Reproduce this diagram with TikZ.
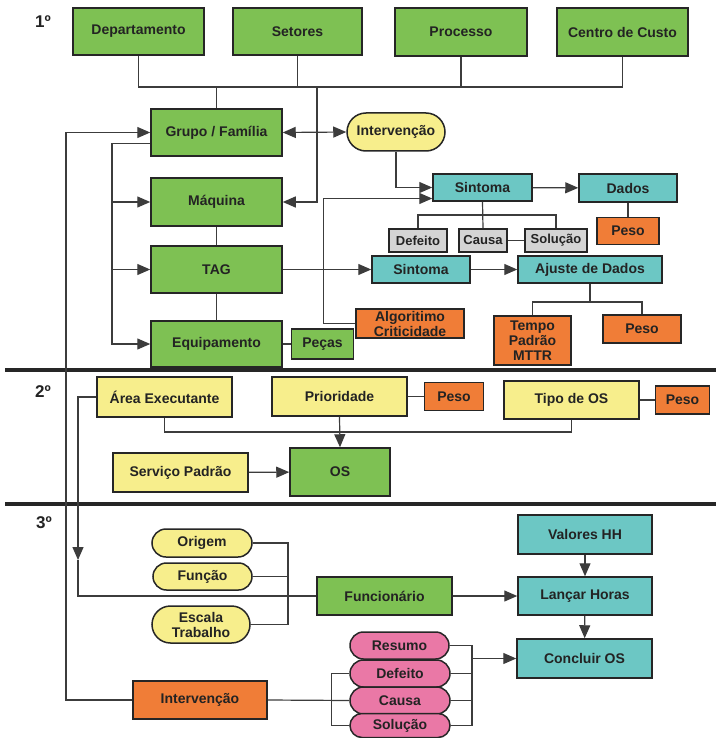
\documentclass[tikz,border=0pt]{standalone}
\usepackage{fontspec}
\setmainfont{Liberation Sans}
\usetikzlibrary{positioning,arrows.meta,shapes.misc}
\definecolor{BoxGreen}{RGB}{126,193,83}
\definecolor{BoxTeal}{RGB}{108,199,196}
\definecolor{BoxYellow}{RGB}{247,238,140}
\definecolor{BoxOrange}{RGB}{240,125,55}
\definecolor{BoxGray}{RGB}{212,212,212}
\definecolor{BoxPink}{RGB}{234,120,166}
\definecolor{EdgeDark}{RGB}{38,38,38}
\definecolor{LineGray}{RGB}{60,60,60}
\definecolor{TextDark}{RGB}{35,35,35}
\tikzset{
  flow/.style={-{Triangle[length=13pt,width=11pt]},line width=1.2pt,draw=LineGray},
  dflow/.style={{Triangle[length=13pt,width=11pt]}-{Triangle[length=13pt,width=11pt]},line width=1.2pt,draw=LineGray},
  link/.style={line width=1.2pt,draw=LineGray},
  divider/.style={line width=3.5pt,draw=EdgeDark},
  box/.style={draw=EdgeDark,line width=1.5pt,inner sep=0pt,align=center,
    text=TextDark,font=\fontsize{14}{15}\selectfont\bfseries},
  greenbox/.style={box,fill=BoxGreen},
  tealbox/.style={box,fill=BoxTeal},
  yellowbox/.style={box,fill=BoxYellow},
  orangebox/.style={box,fill=BoxOrange},
  graybox/.style={box,fill=BoxGray,font=\fontsize{13}{14}\selectfont\bfseries},
  yellowpill/.style={box,rounded rectangle,fill=BoxYellow},
  pinkpill/.style={box,rounded rectangle,fill=BoxPink},
  levellabel/.style={text=TextDark,font=\fontsize{17}{17}\selectfont\bfseries}
}
\begin{document}
\begin{tikzpicture}[x=1pt,y=-1pt]
  \path[fill=white] (0,0) rectangle (720,738);
  \useasboundingbox (0,0) rectangle (720,738);

  \node[levellabel] (lvlA) at (43,22) {1º};
  \node[levellabel] (lvlB) at (43,392) {2º};
  \node[levellabel] (lvlC) at (44,523) {3º};

  \node[greenbox,minimum width=131,minimum height=47] (dep) at (138.5,31.5) {Departamento};
  \node[greenbox,minimum width=129,minimum height=47] (setores) at (297.5,31.5) {Setores};
  \node[greenbox,minimum width=132,minimum height=48] (processo) at (461,32) {Processo};
  \node[greenbox,minimum width=131,minimum height=48] (custo) at (622.5,32) {Centro de Custo};

  \node[greenbox,minimum width=131,minimum height=47] (grupo) at (216.5,132.5) {Grupo / Família};
  \node[greenbox,minimum width=131,minimum height=48] (maquina) at (216.5,202) {Máquina};
  \node[greenbox,minimum width=131,minimum height=47] (tag) at (216.5,269.5) {TAG};
  \node[greenbox,minimum width=131,minimum height=46] (equip) at (216.5,344) {Equipamento};
  \node[greenbox,right=8pt of equip,minimum width=62,minimum height=30] (pecas) {Peças};

  \node[yellowpill,minimum width=98,minimum height=38] (intervA) at (396,132) {Intervenção};
  \node[tealbox,minimum width=99,minimum height=27] (sintA) at (482.5,187.5) {Sintoma};
  \node[tealbox,minimum width=98,minimum height=28] (dados) at (628,188) {Dados};
  \node[orangebox,below=14pt of dados,minimum width=62,minimum height=27] (pesoA) {Peso};
  \node[graybox,minimum width=58,minimum height=23] (defeitoA) at (418,240.5) {Defeito};
  \node[graybox,minimum width=48,minimum height=23] (causaA) at (483,240.5) {Causa};
  \node[graybox,minimum width=62,minimum height=23] (solucaoA) at (556,240.5) {Solução};
  \node[tealbox,minimum width=98,minimum height=27] (sintB) at (421,269.5) {Sintoma};
  \node[tealbox,minimum width=144,minimum height=27] (ajuste) at (590,269.5) {Ajuste de Dados};
  \node[orangebox,minimum width=108,minimum height=29] (algoritmo) at (410,323.5) {Algoritimo\\Criticidade};
  \node[orangebox,minimum width=77,minimum height=49] (tempo) at (532.5,340.5) {Tempo\\Padrão\\MTTR};
  \node[orangebox,minimum width=78,minimum height=28] (pesoB) at (642,329) {Peso};

  \draw[divider] (5,370) -- (716,370);
  \draw[divider] (5,504) -- (716,504);

  \node[yellowbox,minimum width=135,minimum height=40] (area) at (164.5,397) {Área Executante};
  \node[yellowbox,minimum width=135,minimum height=39] (prioridade) at (339.5,396.5) {Prioridade};
  \node[orangebox,right=16pt of prioridade,minimum width=59,minimum height=28] (pesoC) {Peso};
  \node[yellowbox,minimum width=135,minimum height=38] (tipo) at (571.5,400) {Tipo de OS};
  \node[orangebox,right=15pt of tipo,minimum width=54,minimum height=28] (pesoD) {Peso};
  \node[greenbox,minimum width=100,minimum height=48] (os) at (340,472) {OS};
  \node[yellowbox,minimum width=135,minimum height=39] (servico) at (180.5,472.5) {Serviço Padrão};

  \node[yellowpill,minimum width=100,minimum height=28] (origem) at (202,543) {Origem};
  \node[yellowpill,minimum width=99,minimum height=27] (funcao) at (202.5,576.5) {Função};
  \node[yellowpill,minimum width=98,minimum height=37] (escala) at (201,624.5) {Escala\\Trabalho};
  \node[greenbox,minimum width=135,minimum height=38] (funcionario) at (384.5,596) {Funcionário};
  \node[tealbox,minimum width=134,minimum height=39] (valores) at (585,534.5) {Valores HH};
  \node[tealbox,minimum width=134,minimum height=38] (lancar) at (585,596) {Lançar Horas};
  \node[tealbox,minimum width=135,minimum height=39] (concluir) at (584.5,658.5) {Concluir OS};
  \node[orangebox,minimum width=134,minimum height=38] (intervB) at (200,700) {Intervenção};
  \node[pinkpill,minimum width=99,minimum height=27] (resumo) at (399.5,645.5) {Resumo};
  \node[pinkpill,minimum width=100,minimum height=27] (defeitoB) at (400,673.5) {Defeito};
  \node[pinkpill,minimum width=100,minimum height=27] (causaB) at (400,700.5) {Causa};
  \node[pinkpill,minimum width=100,minimum height=24] (solucaoB) at (400,725.5) {Solução};

  \coordinate (busL) at (138.5,87);
  \coordinate (busM) at (317,87);
  \coordinate (drop) at (78,560);
  \draw[link] (dep.south) -- (busL) -- (custo.south |- busL) -- (custo.south);
  \draw[link] (setores.south) -- (setores.south |- busL);
  \draw[link] (processo.south) -- (processo.south |- busL);
  \draw[link] (grupo.north) -- (grupo.north |- busL);
  \draw[flow] (busM) |- (maquina.east);
  \draw[dflow] (grupo.east) -- (intervA.west);
  \draw[flow] ([yshift=-11pt]grupo.west) -| (equip.west -| 112,0) -- (equip.west);
  \foreach \n in {maquina,tag}
    \draw[flow] (\n.west -| 112,0) -- (\n.west);
  \draw[flow] (intervB.west) -| (grupo.west -| 66,0) -- (grupo.west);
  \draw[link] (maquina) -- (tag);
  \draw[link] (tag) -- (equip);
  \draw[link] (equip) -- (pecas);

  \draw[flow] (intervA.south) |- (sintA.west);
  \draw[flow] (algoritmo.west) -- ++(-32,0) |- ([yshift=-11pt]sintA.west);
  \draw[flow] (sintA) -- (dados);
  \draw[link] (dados) -- (pesoA);
  \draw[link] (sintA.south) -- (causaA.north);
  \draw[link] (defeitoA.north) |- (solucaoA.north |- 0,215) -- (solucaoA.north);
  \draw[link] (causaA) -- (solucaoA);
  \draw[flow] (tag.east) -- (sintB.west);
  \draw[flow] (sintB) -- (ajuste);
  \draw[link] (ajuste.south) -- (ajuste.south |- 0,302);
  \draw[link] (tempo.north) |- (pesoB.north |- 0,302) -- (pesoB.north);

  \draw[link] (prioridade) -- (pesoC);
  \draw[link] (tipo) -- (pesoD);
  \draw[link] (area.south) |- (tipo.south |- 0,432) -- (tipo.south);
  \draw[flow] (prioridade.south) -- (os.north);
  \draw[flow] (servico) -- (os);
  \draw[flow] (area.west) -| (drop);
  \draw[link] (drop) |- (funcionario.west);

  \draw[link] (origem.east) -| (escala.east -| 288,0) -- (escala.east);
  \draw[link] (funcao.east) -- (funcao.east -| 288,0);
  \draw[flow] (funcionario) -- (lancar);
  \draw[flow] (valores) -- (lancar);
  \draw[flow] (lancar) -- (concluir);
  \draw[link] (intervB.east) -- (causaB.west);
  \draw[link] (defeitoB.west) -- ++(-18,0) |- (solucaoB.west);
  \draw[link] (resumo.east) -| (solucaoB.east -| 472,0) -- (solucaoB.east);
  \foreach \n in {defeitoB,causaB}
    \draw[link] (\n.east) -- (\n.east -| 472,0);
  \draw[flow] (concluir.west -| 472,0) -- (concluir.west);
\end{tikzpicture}
\end{document}
